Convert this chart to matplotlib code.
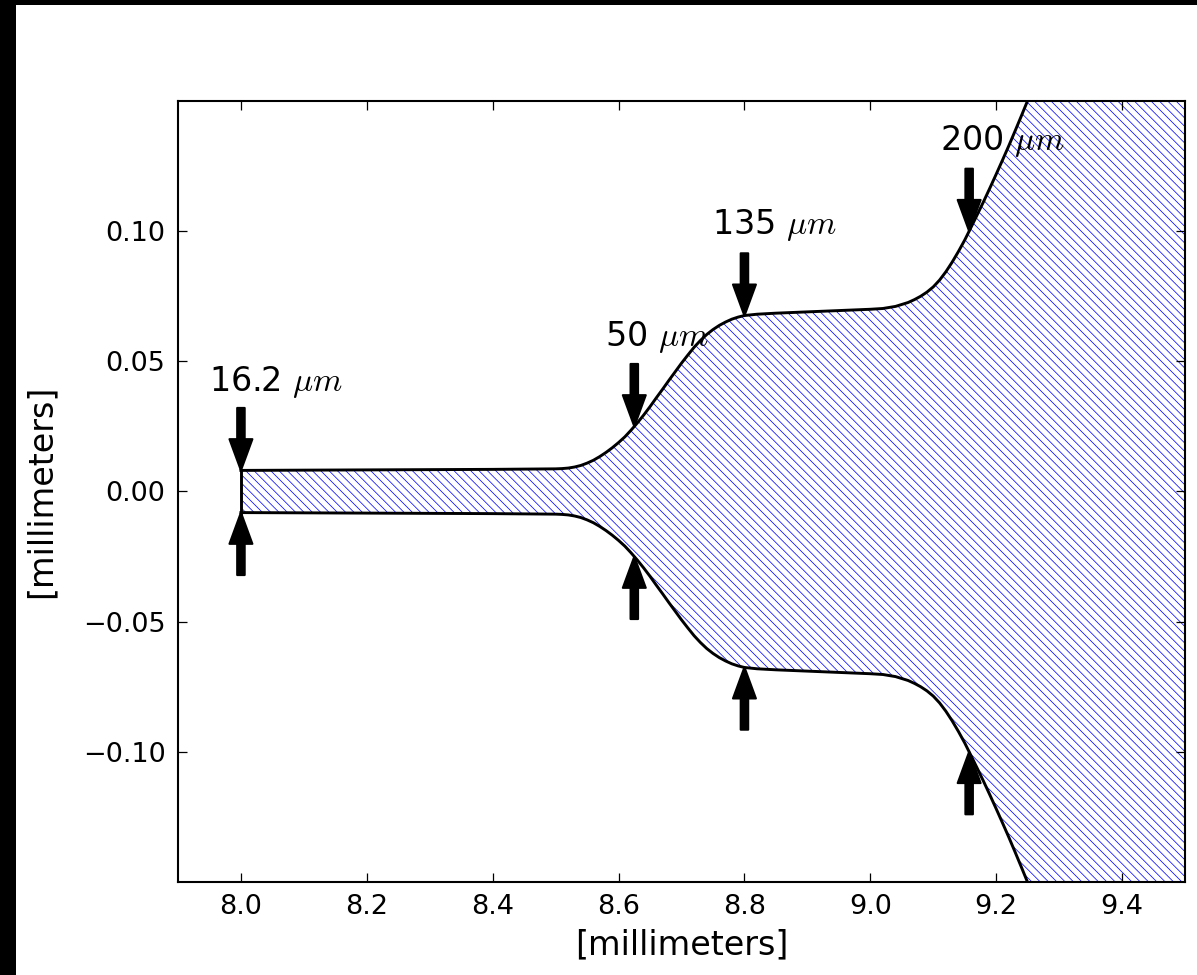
import matplotlib
matplotlib.use("Agg")
import matplotlib.pyplot as plt
from matplotlib.patches import Rectangle
import numpy as np

# Horn profile: axial position [mm] and half-width of the channel [mm]
profile_x = [8.00, 8.10, 8.20, 8.30, 8.40, 8.50, 8.51, 8.52, 8.53, 8.54,
             8.55, 8.56, 8.57, 8.58, 8.59, 8.60, 8.61, 8.62, 8.63, 8.64,
             8.65, 8.66, 8.67, 8.68, 8.69, 8.70, 8.71, 8.72, 8.73, 8.74,
             8.75, 8.76, 8.77, 8.78, 8.79, 8.80, 8.82, 8.85, 8.90, 8.95,
             9.00, 9.02, 9.04, 9.06, 9.07, 9.08, 9.09, 9.10, 9.11, 9.12,
             9.13, 9.14, 9.15, 9.157, 9.17, 9.18, 9.19, 9.20, 9.21, 9.22,
             9.23, 9.24, 9.25, 9.26, 9.28, 9.30, 9.40, 9.50]
profile_half = [0.0081, 0.0082, 0.0083, 0.0084, 0.0085, 0.0087, 0.0088, 0.0090, 0.0094, 0.0100,
                0.0109, 0.0120, 0.0134, 0.0150, 0.0168, 0.0188, 0.0210, 0.0236, 0.0264, 0.0294,
                0.0326, 0.0360, 0.0393, 0.0427, 0.0460, 0.0493, 0.0524, 0.0554, 0.0580, 0.0603,
                0.0622, 0.0638, 0.0651, 0.0662, 0.0670, 0.0676, 0.0681, 0.0685, 0.0690, 0.0695,
                0.0700, 0.0703, 0.0711, 0.0726, 0.0737, 0.0750, 0.0766, 0.0786, 0.0812, 0.0844,
                0.0881, 0.0922, 0.0966, 0.1000, 0.1064, 0.1114, 0.1166, 0.1219, 0.1273, 0.1328,
                0.1385, 0.1443, 0.1502, 0.1563, 0.1690, 0.1830, 0.2600, 0.3400]

# Marked widths along the horn
mark_x = [8.0, 8.625, 8.8, 9.157]
mark_width_um = [16.2, 50, 135, 200]
mark_labels = ["16.2 $\\mu m$", "50 $\\mu m$", "135 $\\mu m$", "200 $\\mu m$"]
label_x = [7.95, 8.578, 8.748, 9.11]
label_y = [0.0386, 0.056, 0.0988, 0.131]

x_ticks = [8.0, 8.2, 8.4, 8.6, 8.8, 9.0, 9.2, 9.4]
y_ticks = [-0.10, -0.05, 0.00, 0.05, 0.10]

plt.rcParams.update({
    "font.family": "DejaVu Sans",
    "font.size": 13,
    "mathtext.fontset": "cm",
    "xtick.direction": "in",
    "ytick.direction": "in",
    "xtick.top": True,
    "ytick.right": True,
    "xtick.major.size": 4.5,
    "ytick.major.size": 4.5,
    "xtick.major.width": 0.6,
    "ytick.major.width": 0.6,
    "xtick.major.pad": 6,
    "ytick.major.pad": 6,
    "axes.linewidth": 1.0,
    "hatch.linewidth": 0.35,
})

fig = plt.figure(figsize=(1197 / 150, 975 / 150), dpi=150, facecolor="white")
ax = fig.add_axes([0.1487, 0.0954, 0.8413, 0.801])

px = np.array(profile_x)
ph = np.array(profile_half)

ax.fill_between(px, -ph, ph, facecolor="white", edgecolor="blue",
                hatch="\\" * 6, linewidth=0, zorder=1)
ax.plot(px, ph, color="black", lw=1.4, zorder=3)
ax.plot(px, -ph, color="black", lw=1.4, zorder=3)
ax.plot([px[0], px[0]], [-ph[0], ph[0]], color="black", lw=1.4, zorder=3)

arrow_len = 0.024
arrow_kw = dict(facecolor="black", edgecolor="black", width=3.6,
                headwidth=11, headlength=15, shrink=0)
for xm, wm, lab, lx, ly in zip(mark_x, mark_width_um, mark_labels, label_x, label_y):
    half = wm / 2000.0  # micrometres -> half-width in millimetres
    ax.annotate("", xy=(xm, half), xytext=(xm, half + arrow_len),
                arrowprops=arrow_kw, zorder=4)
    ax.annotate("", xy=(xm, -half), xytext=(xm, -half - arrow_len),
                arrowprops=arrow_kw, zorder=4)
    ax.text(lx, ly, lab, fontsize=16, ha="left", va="baseline", zorder=5)

ax.set_xlim(7.9, 9.5)
ax.set_ylim(-0.15, 0.15)
ax.set_xticks(x_ticks)
ax.set_yticks(y_ticks)
ax.set_xticklabels([f"{t:.1f}" for t in x_ticks])
ax.set_yticklabels([f"{t:.2f}".replace("-", "\u2212") for t in y_ticks])
ax.set_xlabel("[millimeters]", fontsize=16, labelpad=4)
ax.set_ylabel("[millimeters]", fontsize=16, labelpad=12)

# dark frame strips along the left and top edges of the canvas
fig.add_artist(Rectangle((0, 0), 16 / 1197, 1, transform=fig.transFigure,
                         facecolor="black", edgecolor="none"))
fig.add_artist(Rectangle((0, 1 - 5 / 975), 1, 5 / 975, transform=fig.transFigure,
                         facecolor="black", edgecolor="none"))

fig.savefig("out.png", dpi=150, facecolor="white")
